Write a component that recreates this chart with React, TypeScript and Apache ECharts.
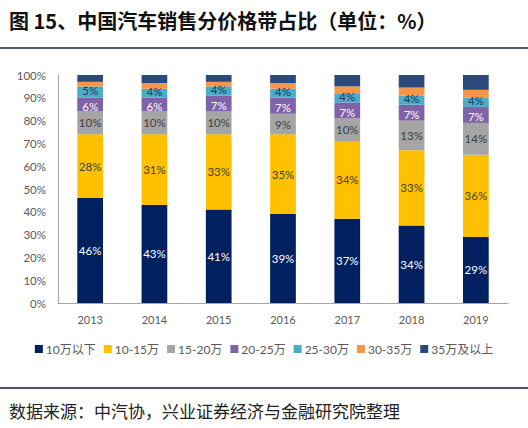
import React, { useEffect, useRef } from "react";
import * as echarts from "echarts";

const years = ["2013", "2014", "2015", "2016", "2017", "2018", "2019"];
const seriesNames = ["10万以下", "10-15万", "15-20万", "20-25万", "25-30万", "30-35万", "35万及以上"];
const below10 = [46, 43, 41, 39, 37, 34, 29];
const r10to15 = [28, 31, 33, 35, 34, 33, 36];
const r15to20 = [10, 10, 10, 9, 10, 13, 14];
const r20to25 = [6, 6, 7, 7, 7, 7, 7];
const r25to30 = [5, 4, 4, 4, 4, 4, 4];
const r30to35 = [2, 2.5, 2, 2.5, 3, 3.5, 3.5];
const above35 = [3, 3.5, 3, 3.5, 5, 5.5, 6.5];
const yTicks = [0, 10, 20, 30, 40, 50, 60, 70, 80, 90, 100];

const colors = ["#002060", "#FFC000", "#A5A5A5", "#7F62A8", "#4BACC6", "#F79646", "#2A4A7B"];
const labelColors = ["#ffffff", "#404040", "#404040", "#ffffff", "#1F3864", "", ""];
const labelOffsets = [[0, 0], [0, 0], [0, 0], [0, 2], [0, -1.5], [0, 0], [0, 0]];
const showLabel = [true, true, true, true, true, false, false];
const allData = [below10, r10to15, r15to20, r20to25, r25to30, r30to35, above35];

export default function App() {
  const ref = useRef<HTMLDivElement>(null);
  useEffect(() => {
    if (!ref.current) return;
    const chart = echarts.init(ref.current, null, { renderer: "svg" });
    const font = "Lato, 'Noto Sans CJK SC', sans-serif";
    chart.setOption({
      animation: false,
      backgroundColor: "#ffffff",
      color: colors,
      grid: { left: 58, right: 20, top: 75, bottom: 125 },
      xAxis: {
        type: "category",
        data: years,
        axisTick: { show: false },
        axisLine: { lineStyle: { color: "#A6A6A6", width: 1 } },
        axisLabel: { color: "#595959", fontSize: 11, fontFamily: font, margin: 11 },
      },
      yAxis: {
        type: "value",
        min: yTicks[0],
        max: yTicks[yTicks.length - 1],
        interval: 10,
        splitLine: { show: false },
        axisTick: { show: false },
        axisLine: { show: true, lineStyle: { color: "#A6A6A6", width: 1 } },
        axisLabel: { color: "#595959", fontSize: 11.5, fontFamily: font, formatter: "{value}%", margin: 12 },
      },
      legend: {
        top: 338,
        left: "center",
        icon: "rect",
        itemWidth: 8,
        itemHeight: 8,
        itemGap: 8,
        textStyle: { color: "#595959", fontSize: 12, fontFamily: font, padding: [0, 0, 0, -2] },
        data: seriesNames,
      },
      series: seriesNames.map((name, i) => ({
        name,
        type: "bar",
        stack: "total",
        barWidth: "40%",
        data: allData[i],
        label: {
          show: showLabel[i],
          position: "inside",
          offset: labelOffsets[i],
          color: labelColors[i] || "#404040",
          fontSize: 11.5,
          lineHeight: 10,
          fontFamily: font,
          formatter: (p: any) => `${Math.round(p.value)}%`,
        },
      })),
      graphic: [
        {
          type: "text",
          left: 9,
          top: 10,
          style: {
            text: "图 15、中国汽车销售分价格带占比（单位：%）",
            fontSize: 20,
            fontWeight: "bold",
            fontFamily: "'Noto Sans CJK SC', sans-serif",
            fill: "#111111",
          },
        },
        {
          type: "rect",
          shape: { x: 0, y: 47, width: 528, height: 2 },
          style: { fill: "#4A5675" },
        },
        {
          type: "rect",
          shape: { x: 0, y: 387, width: 528, height: 2 },
          style: { fill: "#4A5675" },
        },
        {
          type: "text",
          left: 9,
          top: 402,
          style: {
            text: "数据来源：中汽协，兴业证券经济与金融研究院整理",
            fontSize: 17,
            fontFamily: "'Noto Sans CJK SC', sans-serif",
            fill: "#222222",
          },
        },
      ],
    });
    return () => chart.dispose();
  }, []);
  return (
    <div
      ref={ref}
      style={{ position: "fixed", left: 0, top: 0, width: 528, height: 428 }}
    />
  );
}
